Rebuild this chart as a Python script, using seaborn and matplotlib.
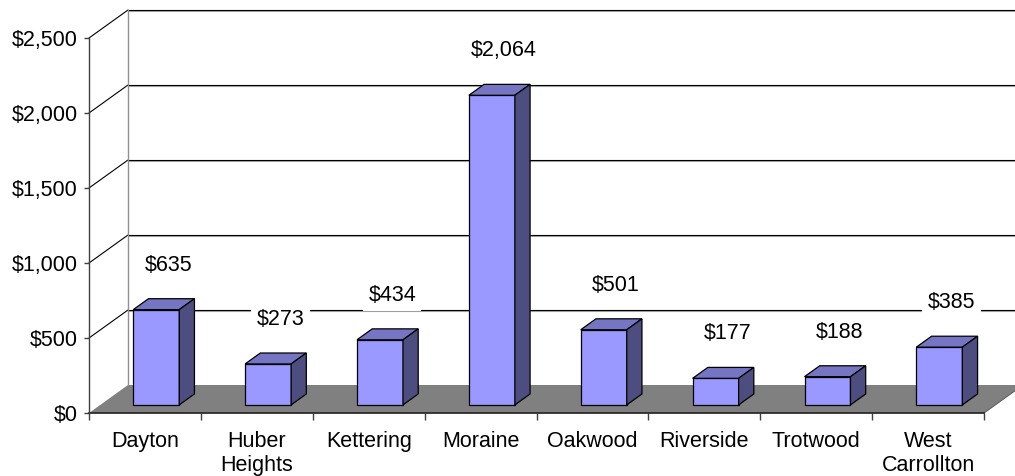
import numpy as np
import pandas as pd
import matplotlib
matplotlib.use("Agg")
import matplotlib.pyplot as plt
from matplotlib.patches import Polygon, Rectangle
from matplotlib.ticker import FuncFormatter, FixedLocator
import seaborn as sns

# Per-capita amounts by city
cities = ["Dayton", "Huber\nHeights", "Kettering", "Moraine", "Oakwood",
          "Riverside", "Trotwood", "West\nCarrollton"]
amounts = [635, 273, 434, 2064, 501, 177, 188, 385]
y_ticks = [0, 500, 1000, 1500, 2000, 2500]

df = pd.DataFrame({"city": cities, "amount": amounts})

sns.set_theme(style="white")
plt.rcParams["font.family"] = ["Liberation Sans", "DejaVu Sans"]
FS = 15.5

W, H = 1015, 476
fig = plt.figure(figsize=(W / 100, H / 100), dpi=100)
fig.patch.set_facecolor("white")

# front plane of the 3-D box: categories along x, 0..2500 along y
px_per_cat = 111.875
px_per_unit = 0.15
left_px, zero_px, top_px = 89, 413, 9
ax = fig.add_axes([left_px / W, (H - zero_px) / H,
                   (W - left_px) / W, (zero_px - top_px) / H])
ax.patch.set_alpha(0)

# oblique depth vector (full depth of the box) in data units
DX = 39 / px_per_cat
DY = 28 / px_per_unit
n = len(cities)
x0, x1 = -0.5, n - 0.5

front_c, top_c, side_c = "#9999FF", "#7575C4", "#4D4D80"

# bars: front faces through seaborn
sns.barplot(data=df, x="city", y="amount", color=front_c, saturation=1,
            width=0.411, edgecolor="black", linewidth=0.9, ax=ax, zorder=3)
bars = [p for p in ax.patches if isinstance(p, Rectangle)]

ax.set_xlim(-0.5, -0.5 + (W - left_px) / px_per_cat)
ax.set_ylim(0, (zero_px - top_px) / px_per_unit)

# floor
ax.add_patch(Polygon([(x0, 0), (x1, 0), (x1 + DX, DY), (x0 + DX, DY)],
                     closed=True, facecolor="#808080", edgecolor="none",
                     zorder=0, clip_on=False))

# back wall gridlines and side wall diagonals
for v in y_ticks[1:]:
    ax.plot([x0, x0 + DX], [v, v + DY], color="black", lw=0.8,
            zorder=0.5, clip_on=False)
    ax.plot([x0 + DX, x1 + DX + 1], [v + DY, v + DY], color="#000000",
            lw=0.8, zorder=0.5, clip_on=False)
    ax.plot([x0 + DX, x1 + DX + 1], [v + DY - 0.9 / px_per_unit] * 2,
            color="#A8A8A8", lw=0.8, zorder=0.4, clip_on=False)
ax.plot([x0 + DX, x0 + DX], [DY, y_ticks[-1] + DY], color="#909090",
        lw=1.0, zorder=0.5, clip_on=False)
ax.plot([x1, x1 + DX], [0, DY], color="#606060", lw=0.8, zorder=0.5,
        clip_on=False)

# bars: shift into the box and add top and side faces
d_front, d_bar = 0.29, 0.39
for p in bars:
    p.set_x(p.get_x() + d_front * DX)
    p.set_y(p.get_y() + d_front * DY)
    p.set_clip_on(False)
    bx0, by0 = p.get_x(), p.get_y()
    bx1, by1 = bx0 + p.get_width(), by0 + p.get_height()
    ddx, ddy = d_bar * DX, d_bar * DY
    ax.add_patch(Polygon([(bx0, by1), (bx1, by1), (bx1 + ddx, by1 + ddy),
                          (bx0 + ddx, by1 + ddy)], closed=True,
                         facecolor=top_c, edgecolor="black", lw=0.9,
                         zorder=3, clip_on=False))
    ax.add_patch(Polygon([(bx1, by0), (bx1, by1), (bx1 + ddx, by1 + ddy),
                          (bx1 + ddx, by0 + ddy)], closed=True,
                         facecolor=side_c, edgecolor="black", lw=0.9,
                         zorder=3, clip_on=False))

# value labels on a white box so the gridlines break around them
for i, v in enumerate(amounts):
    ax.annotate(f"${v:,.0f}", xy=(i + 0.21, v + d_front * DY),
                xytext=(0, 32), textcoords="offset points",
                ha="center", va="center", fontsize=FS, color="black",
                bbox=dict(boxstyle="square,pad=0.25", facecolor="white",
                          edgecolor="none"),
                zorder=5, annotation_clip=False)

# axes styling
for s in ["top", "right"]:
    ax.spines[s].set_visible(False)
ax.spines["left"].set_bounds(0, y_ticks[-1])
ax.spines["left"].set_color("#404040")
ax.spines["left"].set_linewidth(1.0)
ax.spines["bottom"].set_bounds(x0, x1)
ax.spines["bottom"].set_color("#202020")
ax.spines["bottom"].set_linewidth(1.2)
ax.spines["bottom"].set_zorder(2)

ax.yaxis.set_major_locator(FixedLocator(y_ticks))
ax.yaxis.set_major_formatter(FuncFormatter(lambda v, _: f"${v:,.0f}"))
ax.tick_params(axis="y", direction="out", length=3.6, width=1.0,
               color="#404040", labelsize=FS, labelcolor="black",
               pad=4.3, left=True)
ax.set_xticks(range(n))
ax.set_xticklabels(cities)
ax.xaxis.set_minor_locator(FixedLocator(np.arange(n + 1) - 0.5))
ax.tick_params(axis="x", which="major", length=0, labelsize=FS,
               labelcolor="black", pad=13)
ax.tick_params(axis="x", which="minor", direction="out", length=5,
               width=1.0, color="#404040", bottom=True)
ax.set_xlabel("")
ax.set_ylabel("")

fig.savefig("out.png", dpi=100, facecolor="white")
